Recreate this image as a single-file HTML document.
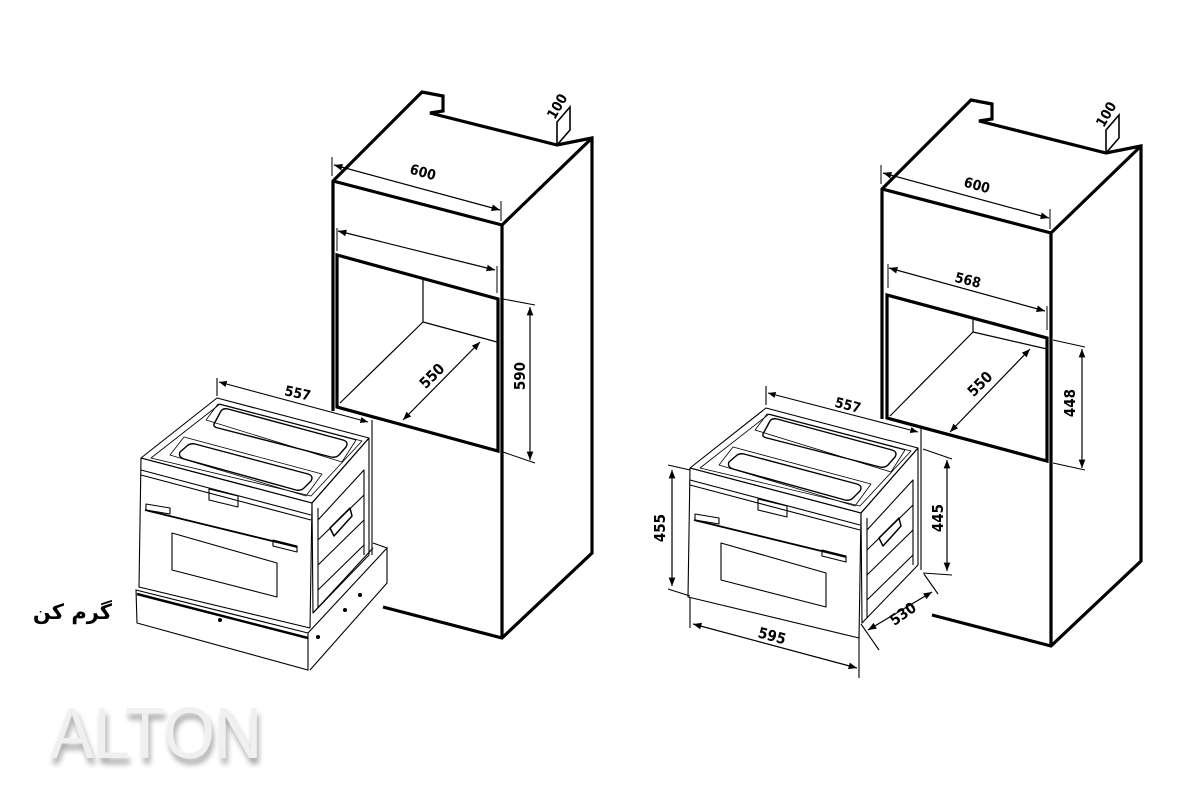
<!DOCTYPE html>
<html><head><meta charset="utf-8"><style>
html,body{margin:0;padding:0;background:#fff;}
svg{display:block;}
</style></head><body>
<svg width="1200" height="800" viewBox="0 0 1200 800" xmlns="http://www.w3.org/2000/svg" font-family="'Liberation Sans', sans-serif">
<defs>
<marker id="ar" viewBox="0 0 10 10" refX="10" refY="5" markerWidth="7" markerHeight="7" orient="auto-start-reverse"><path d="M0,1 L10,5 L0,9 z" fill="#000"/></marker>
<filter id="sh" x="-10%" y="-10%" width="130%" height="150%"><feGaussianBlur in="SourceAlpha" stdDeviation="3"/><feOffset dx="2" dy="6"/><feComponentTransfer><feFuncA type="linear" slope="0.35"/></feComponentTransfer><feMerge><feMergeNode/><feMergeNode in="SourceGraphic"/></feMerge></filter>
<g id="cab" fill="none" stroke="#000" stroke-width="3.2" stroke-linejoin="miter">
 <polyline points="333,411 333,181 422,92 443,96 443,111 430,113 557,145 592,138 592,553 502,638 383,607"/>
 <line x1="333" y1="181" x2="502" y2="225"/>
 <line x1="502" y1="225" x2="592" y2="138"/>
 <line x1="502" y1="225" x2="502" y2="638"/>
 <polyline points="557,145 557,122 570,107 570,130 557,145" stroke-width="1.6"/>
</g>
<g id="oven" fill="none" stroke="#000" stroke-width="1.1" stroke-linejoin="round">
 <polygon points="141,458 217,398 369,438 312,503"/>
 <polygon points="151,458 220,404 362,441 311,496" stroke-width="0.8"/>
 <path d="M214,424 L221,411 Q223,408 228,409 L343,440 Q349,442 346,447 L339,455 Q336,458 331,457 L218,428 Q213,427 214,424 Z" stroke-width="1.4"/>
 <path d="M206,420 L218,404 L356,440 L342,462 Z" stroke-width="0.8"/>
 <path d="M180,452 L187,446 Q190,443 195,444 L308,474 Q314,476 311,481 L304,488 Q301,491 296,490 L184,459 Q178,457 180,452 Z" stroke-width="1.4"/>
 <path d="M170,455 L184,437 L322,474 L306,496 Z" stroke-width="0.8"/>
 <polygon points="141,458 312,503 310,628 139,587"/>
 <line x1="141" y1="470" x2="311" y2="515"/>
 <line x1="141" y1="475" x2="311" y2="520"/>
 <polygon points="209,489 238,496 238,507 209,500"/>
 <polygon points="172,533 277,563 277,597 172,570"/>
 <line x1="145" y1="510" x2="297" y2="547" stroke-width="1.8"/>
 <polygon points="146,504 170,508 170,514 146,510"/>
 <polygon points="273,540 297,546 297,552 273,546"/>
 <polygon points="312,503 369,438 369,555 313,613"/>
 <line x1="318" y1="508" x2="318" y2="608"/>
 <polyline points="318,520 364,470 364,555"/>
 <line x1="318" y1="540" x2="364" y2="495"/>
 <line x1="318" y1="565" x2="364" y2="520"/>
 <line x1="318" y1="590" x2="364" y2="545"/>
 <path d="M330,528 L350,508 L352,516 L334,536 Z" stroke-width="1.5"/>
</g>
</defs>

<g font-family="'DejaVu Sans Condensed','DejaVu Sans',sans-serif" font-weight="bold" font-size="14" text-anchor="middle">
<use href="#cab"/>
<g fill="none" stroke="#000">
 <polygon points="337,255 498,299 498,451 337,407" stroke-width="3.2"/>
 <line x1="423" y1="280" x2="423" y2="322" stroke-width="1.2"/>
 <line x1="423" y1="322" x2="497" y2="342" stroke-width="1.2"/>
 <line x1="340" y1="403" x2="423" y2="322" stroke-width="1.2"/>
 <line x1="403" y1="420" x2="480" y2="342" stroke-width="1.2" marker-start="url(#ar)" marker-end="url(#ar)"/>
 <line x1="334" y1="165" x2="500" y2="210" stroke-width="1.2" marker-start="url(#ar)" marker-end="url(#ar)"/>
 <line x1="332" y1="157" x2="332" y2="176" stroke-width="1"/>
 <line x1="501" y1="201" x2="501" y2="221" stroke-width="1"/>
 <line x1="338" y1="231" x2="495" y2="270" stroke-width="1.2" marker-start="url(#ar)" marker-end="url(#ar)"/>
 <line x1="337" y1="228" x2="337" y2="251" stroke-width="1"/>
 <line x1="497" y1="266" x2="497" y2="293" stroke-width="1"/>
 <line x1="530" y1="307" x2="530" y2="460" stroke-width="1.2" marker-start="url(#ar)" marker-end="url(#ar)"/>
 <line x1="503" y1="299" x2="535" y2="305" stroke-width="1"/>
 <line x1="503" y1="452" x2="535" y2="463" stroke-width="1"/>
</g>
<text x="423" y="177" transform="rotate(15 423 172)">600</text>
<text x="558" y="113" transform="rotate(-60 556 108)">100</text>
<text x="432" y="381" font-size="15" transform="rotate(-45 432 376)">550</text>
<text x="520" y="381" font-size="15" transform="rotate(-90 520 376)">590</text>

<g fill="none" stroke="#000" stroke-width="1.1">
 <polygon points="136,590 308,633 308,670 137,623"/>
 <line x1="137" y1="594" x2="308" y2="638" stroke-width="2.5"/>
 <polyline points="308,633 387,548 387,583 310,670"/>
 <polyline points="373,543 387,548"/>
 <line x1="313" y1="613" x2="373" y2="548"/>
 <circle cx="220" cy="620" r="1.5" fill="#000"/>
 <circle cx="318" cy="637" r="1.5" fill="#000"/>
 <circle cx="345" cy="610" r="1.5" fill="#000"/>
 <circle cx="360" cy="595" r="1.5" fill="#000"/>
</g>
<use href="#oven"/>
<g fill="none" stroke="#000" stroke-width="1.1">
 <line x1="219" y1="382" x2="368" y2="422" marker-start="url(#ar)" marker-end="url(#ar)"/>
 <line x1="217" y1="378" x2="217" y2="396"/>
 <line x1="372" y1="420" x2="372" y2="555"/>
</g>
<text x="298" y="398" transform="rotate(12 298 392)">557</text>

<use href="#cab" transform="translate(549,8)"/>
<g fill="none" stroke="#000">
 <polygon points="887,295 1047,338 1047,461 887,418" stroke-width="3.2"/>
 <line x1="973" y1="318" x2="973" y2="332" stroke-width="1.2"/>
 <line x1="973" y1="332" x2="1047" y2="349" stroke-width="1.2"/>
 <line x1="890" y1="416" x2="973" y2="332" stroke-width="1.2"/>
 <line x1="950" y1="432" x2="1030" y2="349" stroke-width="1.2" marker-start="url(#ar)" marker-end="url(#ar)"/>
 <line x1="883" y1="173" x2="1049" y2="218" stroke-width="1.2" marker-start="url(#ar)" marker-end="url(#ar)"/>
 <line x1="881" y1="165" x2="881" y2="184" stroke-width="1"/>
 <line x1="1050" y1="209" x2="1050" y2="229" stroke-width="1"/>
 <line x1="889" y1="268" x2="1045" y2="311" stroke-width="1.2" marker-start="url(#ar)" marker-end="url(#ar)"/>
 <line x1="888" y1="264" x2="888" y2="288" stroke-width="1"/>
 <line x1="1047" y1="306" x2="1047" y2="330" stroke-width="1"/>
 <line x1="1082" y1="349" x2="1082" y2="468" stroke-width="1.2" marker-start="url(#ar)" marker-end="url(#ar)"/>
 <line x1="1053" y1="340" x2="1085" y2="347" stroke-width="1"/>
 <line x1="1053" y1="463" x2="1085" y2="470" stroke-width="1"/>
</g>
<text x="977" y="190" transform="rotate(15 977 185)">600</text>
<text x="1107" y="121" transform="rotate(-60 1105 116)">100</text>
<text x="968" y="285" transform="rotate(14 968 280)">568</text>
<text x="980" y="389" font-size="15" transform="rotate(-45 980 384)">550</text>
<text x="1070" y="408" font-size="15" transform="rotate(-90 1070 403)">448</text>

<use href="#oven" transform="translate(549,10)"/>
<g fill="none" stroke="#000" stroke-width="1.1">
 <line x1="768" y1="393" x2="918" y2="432" marker-start="url(#ar)" marker-end="url(#ar)"/>
 <line x1="766" y1="386" x2="766" y2="405"/>
 <line x1="921" y1="428" x2="921" y2="570"/>
 <line x1="672" y1="470" x2="672" y2="586" stroke-width="1.2" marker-start="url(#ar)" marker-end="url(#ar)"/>
 <line x1="668" y1="465" x2="690" y2="470"/>
 <line x1="668" y1="589" x2="690" y2="596"/>
 <line x1="693" y1="624" x2="857" y2="668" stroke-width="1.2" marker-start="url(#ar)" marker-end="url(#ar)"/>
 <line x1="690" y1="597" x2="690" y2="628"/>
 <line x1="859" y1="634" x2="859" y2="678"/>
 <line x1="947" y1="460" x2="947" y2="571" stroke-width="1.2" marker-start="url(#ar)" marker-end="url(#ar)"/>
 <line x1="923" y1="449" x2="952" y2="459"/>
 <line x1="923" y1="573" x2="952" y2="575"/>
 <line x1="868" y1="630" x2="932" y2="592" stroke-width="1.2" marker-start="url(#ar)" marker-end="url(#ar)"/>
 <line x1="924" y1="574" x2="938" y2="594"/>
 <line x1="861" y1="624" x2="879" y2="650"/>
</g>
<text x="848" y="410" transform="rotate(14 848 405)">557</text>
<text x="660" y="533" font-size="15" transform="rotate(-90 660 528)">455</text>
<text x="772" y="641" font-size="15" transform="rotate(15 772 636)">595</text>
<text x="938" y="523" font-size="15" transform="rotate(-90 938 518)">445</text>
<text x="903" y="619" font-size="15" transform="rotate(-35 903 614)">530</text>
</g>

<text x="112" y="619" font-size="21" font-weight="bold" text-anchor="end" font-family="'DejaVu Sans', sans-serif">گرم کن</text>
<g filter="url(#sh)">
<text x="50" y="758" font-size="72" fill="#f0f0f0" textLength="212" lengthAdjust="spacingAndGlyphs">ALTON</text>
</g>
</svg>
</body></html>
